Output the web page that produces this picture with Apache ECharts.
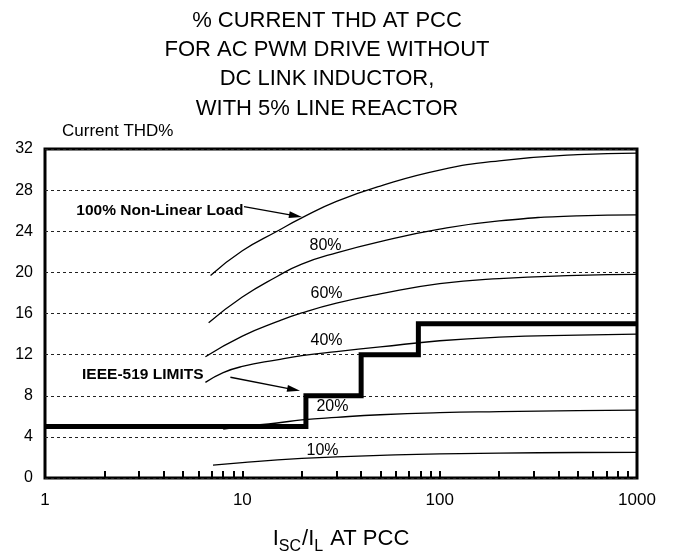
<!DOCTYPE html>
<html><head><meta charset="utf-8">
<script src="https://cdn.jsdelivr.net/npm/echarts@6/dist/echarts.min.js"></script>
<style>html,body{margin:0;padding:0;background:#fff}#c{width:673px;height:556px}</style>
</head><body><div id="c"></div>
<script>
// ---- data ----
const titleText = '% CURRENT THD AT PCC\nFOR AC PWM DRIVE WITHOUT\nDC LINK INDUCTOR,\nWITH 5% LINE REACTOR';
const yAxisName = 'Current THD%';
const yTickStep = 4;
const xLabelValues = [1, 10, 100, 1000];
const xTickValues = [2,3,4,5,6,7,8,9,10,20,30,40,50,60,70,80,90,100,200,300,400,500,600,700,800,900];

const x100 = [6.9, 10, 15, 20, 30, 50, 100, 200, 500, 1000];
const y100 = [19.7, 22.1, 24.0, 25.3, 26.9, 28.4, 29.95, 30.85, 31.45, 31.6];
const x80 = [6.75, 10, 15, 20, 30, 50, 100, 200, 500, 1000];
const y80 = [15.1, 17.6, 19.6, 20.8, 21.9, 23.0, 24.2, 25.0, 25.5, 25.6];
const x60 = [6.5, 10, 15, 20, 30, 50, 100, 200, 500, 1000];
const y60 = [11.8, 13.8, 15.2, 16.05, 17.0, 17.9, 18.9, 19.4, 19.7, 19.8];
const x40 = [6.5, 8, 10, 15, 20, 30, 50, 100, 200, 500, 1000];
const y40 = [9.3, 10.25, 10.85, 11.5, 11.9, 12.3, 12.75, 13.35, 13.7, 13.9, 14.0];
const x20 = [8, 10, 15, 20, 30, 50, 100, 200, 500, 1000];
const y20 = [4.75, 5.0, 5.35, 5.65, 5.9, 6.15, 6.35, 6.45, 6.55, 6.6];
const x10 = [7.1, 10, 20, 30, 50, 100, 200, 500, 1000];
const y10 = [1.25, 1.5, 1.9, 2.05, 2.2, 2.35, 2.42, 2.48, 2.5];

const stepX = [1, 21, 21, 40, 40, 78, 78, 1000];
const stepY = [5, 5, 8, 8, 12, 12, 15, 15];

const curveLabels = ['80%', '60%', '40%', '20%', '10%'];
const curveLabelX = [26.4, 26.7, 26.7, 28.6, 25.5];
const curveLabelY = [22.6, 17.9, 13.4, 6.9, 2.7];

const noteTexts = ['100% Non-Linear Load', 'IEEE-519 LIMITS'];
const noteX = [3.82, 3.13];
const noteY = [26.0, 10.0];
const arrowFromX = [10.2, 8.7];
const arrowFromY = [26.4, 9.8];
const arrowToX = [18.6, 18.2];
const arrowToY = [25.5, 8.6];

// ---- chart ----
const SANS = '"Liberation Sans", Arial, sans-serif';
const zip = (xs, ys) => xs.map((x, i) => [x, ys[i]]);
const curve = (xs, ys) => ({
  type: 'line', data: zip(xs, ys), smooth: 0.5, showSymbol: false, symbol: 'none',
  lineStyle: { color: '#000', width: 1.3 }, silent: true, z: 3
});

const chart = echarts.init(document.getElementById('c'), null, { renderer: 'canvas' });
chart.setOption({
  animation: false,
  backgroundColor: '#fff',
  title: {
    text: titleText, left: 322, top: 1, textAlign: 'center',
    textStyle: { fontFamily: SANS, fontSize: 22, fontWeight: 'normal', color: '#000', lineHeight: 29.3 }
  },
  grid: { left: 45, right: 36, top: 149, bottom: 78, show: true, borderColor: '#000', borderWidth: 3,
          backgroundColor: 'transparent', containLabel: false, outerBoundsMode: 'none' },
  xAxis: {
    type: 'log', logBase: 10, min: 1, max: 1000,
    name: '{a|I}{s|SC}{a|/I}{s|L}{a| AT PCC}',
    nameLocation: 'middle', nameGap: 50,
    nameTextStyle: {
      rich: {
        a: { fontFamily: SANS, fontSize: 22, color: '#000', verticalAlign: 'bottom', padding: [0, 0, 5, 0] },
        s: { fontFamily: SANS, fontSize: 16, color: '#000', verticalAlign: 'bottom', padding: [0, 1, 0, 0] }
      }
    },
    axisLine: { show: false },
    axisTick: { show: true, inside: true, length: 7, customValues: xTickValues, lineStyle: { color: '#000', width: 2 } },
    minorTick: { show: false },
    axisLabel: { customValues: xLabelValues, formatter: v => String(Math.round(v)), fontFamily: SANS, fontSize: 17, color: '#000', margin: 14 },
    splitLine: { show: false }
  },
  yAxis: {
    type: 'value', min: 0, max: 32, interval: yTickStep,
    name: yAxisName, nameLocation: 'end', nameGap: 9,
    nameTextStyle: { fontFamily: SANS, fontSize: 17, color: '#000', align: 'left', padding: [0, 0, 0, 17] },
    axisLine: { show: false },
    axisTick: { show: false },
    axisLabel: { fontFamily: SANS, fontSize: 16, color: '#000', margin: 12 },
    splitLine: { show: true, lineStyle: { color: '#222', width: 1, type: [3, 3] } }
  },
  series: [
    curve(x100, y100), curve(x80, y80), curve(x60, y60), curve(x40, y40), curve(x20, y20), curve(x10, y10),
    {
      type: 'line', data: zip(stepX, stepY), showSymbol: false, symbol: 'none', silent: true, z: 4,
      lineStyle: { color: '#000', width: 5, join: 'miter', cap: 'butt' }
    },
    {
      type: 'scatter', symbolSize: 0, silent: true, z: 5, itemStyle: { opacity: 1 },
      data: curveLabels.map((t, i) => ({ value: [curveLabelX[i], curveLabelY[i]], name: t })),
      label: { show: true, position: 'inside', formatter: p => p.name, fontFamily: SANS, fontSize: 16, color: '#000' }
    },
    {
      type: 'scatter', symbolSize: 0, silent: true, z: 5, itemStyle: { opacity: 1 },
      data: noteTexts.map((t, i) => ({ value: [noteX[i], noteY[i]], name: t })),
      label: { show: true, position: 'inside', formatter: p => p.name, fontFamily: SANS, fontSize: 15.5, fontWeight: 'bold', color: '#000' },
      markLine: {
        silent: true, symbol: ['none', 'triangle'], symbolSize: [7, 13], precision: 6,
        label: { show: false },
        lineStyle: { color: '#000', width: 1.3, type: 'solid', opacity: 1 },
        emphasis: { disabled: true },
        data: arrowFromX.map((x, i) => [{ coord: [x, arrowFromY[i]] }, { coord: [arrowToX[i], arrowToY[i]] }])
      }
    }
  ]
});
</script>
</body></html>
